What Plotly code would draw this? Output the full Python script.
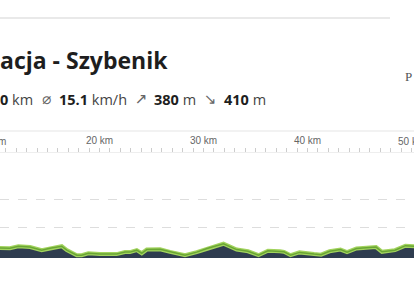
import plotly.graph_objects as go

# ---- data ----
km = [10.0, 10.43, 11.39, 12.19, 13.32, 14.44, 15.24, 16.37, 16.85, 17.81, 18.29, 18.92,
      20.05, 21.65, 22.45, 22.93, 23.58, 24.06, 24.54, 25.82, 26.78, 28.22, 29.35,
      30.34, 31.92, 33.19, 34.28, 35.29, 36.20, 37.36, 37.74, 38.37, 39.23, 40.63,
      41.30, 42.12, 43.17, 43.80, 44.71, 46.59, 47.16, 48.41, 49.42, 50.24, 50.6]
elev = [26, 26, 25, 32, 29, 18, 25, 32, 18, 0, 0, 7,
        4, 4, 11, 11, 18, 7, 20, 21, 12, 0, 11,
        24, 41, 20, 14, 0, 16, 14, 12, 0, 10, 4,
        2, 14, 20, 11, 24, 29, 12, 18, 34, 32, 32]
xtick_vals = [10, 20, 30, 40, 50]
title_text = "acja - Szybenik"
stat_values = ["0", "15.1", "380", "410"]
stat_units = ["km", "km/h", "m", "m"]
stat_icons = ["", "⌀", "↗", "↘"]

W, H = 414, 286
L, R, T, B = 0, 0, 153, 28
X0, X1 = 10.43, 50.24
Y0, Y1 = -10, 365


def px(xp):
    return (xp - L) / (W - L - R)


def py(yp):
    return (H - B - yp) / (H - T - B)


def kx(k):
    return (k - X0) / (X1 - X0)


fig = go.Figure()
fig.add_trace(go.Scatter(x=km, y=[Y0] * len(km), mode="lines",
                         line=dict(width=0, color="rgba(0,0,0,0)"),
                         hoverinfo="skip", showlegend=False))
fig.add_trace(go.Scatter(x=km, y=elev, mode="lines", fill="tonexty",
                         fillcolor="#2e3c4f",
                         line=dict(color="#a2d35e", width=4),
                         showlegend=False))
fig.add_trace(go.Scatter(x=km, y=elev, mode="lines",
                         line=dict(color="#6aa634", width=1.5),
                         showlegend=False))

shapes = [
    dict(type="line", xref="paper", yref="paper", x0=px(0), x1=px(390),
         y0=py(18), y1=py(18), line=dict(color="#e9e9e9", width=2)),
    dict(type="line", xref="paper", yref="paper", x0=0, x1=1,
         y0=py(131), y1=py(131), line=dict(color="#eeeeee", width=1.5)),
]

ann = []
ann.append(dict(text=title_text, xref="paper", yref="paper", x=px(-2), y=py(60),
                xanchor="left", yanchor="middle", showarrow=False,
                font=dict(family="Open Sans", size=23, color="#1e1e1e", weight="bold")))

# stats row: one text per statistic
val_x = [0, 59, 154, 224]
icon_x = [None, 46, 141, 210]
for i in range(4):
    ann.append(dict(text=f"<b>{stat_values[i]}</b> <span style='color:#444444'>{stat_units[i]}</span>",
                    xref="paper", yref="paper",
                    x=px(val_x[i] - 2), y=py(99.5), xanchor="left", yanchor="middle",
                    showarrow=False,
                    font=dict(family="Open Sans", size=14.5, color="#1e1e1e")))
    if stat_icons[i]:
        ann.append(dict(text=stat_icons[i], xref="paper", yref="paper",
                        x=px(icon_x[i]), y=py(99), xanchor="center", yanchor="middle",
                        showarrow=False,
                        font=dict(family="DejaVu Sans", size=15, color="#666666")))

ann.append(dict(text="P", xref="paper", yref="paper", x=px(403), y=py(76),
                xanchor="left", yanchor="middle", showarrow=False,
                font=dict(family="Liberation Serif", size=13, color="#555555")))

# edge tick labels drawn as annotations so they are clipped like the reference
for v in (xtick_vals[0], xtick_vals[-1]):
    ann.append(dict(text=f"{v} km", xref="paper", yref="paper",
                    x=kx(v), y=py(141), xanchor="center", yanchor="middle",
                    showarrow=False, xshift=-3 if v == xtick_vals[0] else 0,
                    font=dict(family="Liberation Sans", size=10, color="#666666")))

fig.update_layout(
    width=W, height=H,
    margin=dict(l=L, r=R, t=T, b=B, pad=0),
    paper_bgcolor="white", plot_bgcolor="white",
    shapes=shapes, annotations=ann,
    xaxis=dict(range=[X0, X1], side="top", tickvals=xtick_vals[1:-1],
               ticktext=[f"{v} km" for v in xtick_vals[1:-1]],
               ticks="outside", ticklen=4, tickcolor="#cccccc", tickwidth=1,
               minor=dict(dtick=1, ticks="outside", ticklen=4, tickcolor="#cccccc",
                          showgrid=False),
               showline=True, linecolor="#eeeeee", linewidth=1,
               showgrid=False, zeroline=False,
               tickfont=dict(family="Liberation Sans", size=10, color="#666666")),
    yaxis=dict(range=[Y0, Y1], tickvals=[100, 200], showticklabels=False,
               showgrid=True, gridcolor="#dddddd", griddash="dash", gridwidth=1,
               zeroline=False, showline=False, ticks=""),
)

fig.write_html("out.html")
